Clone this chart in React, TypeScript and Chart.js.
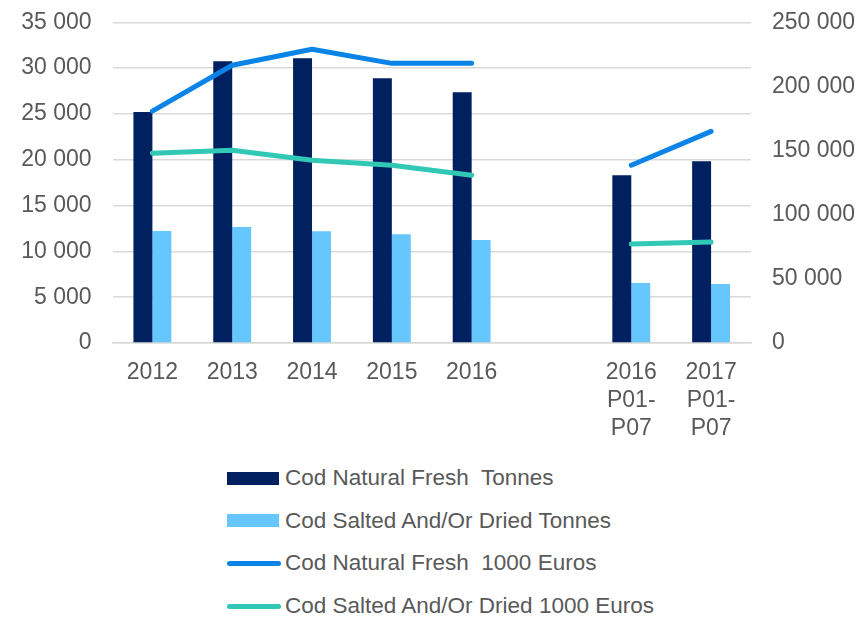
import React, { useEffect, useRef } from "react";
import { Chart, registerables } from "chart.js";

Chart.register(...registerables);

const categories: (string | string[])[] = [
  "2012",
  "2013",
  "2014",
  "2015",
  "2016",
  "",
  ["2016", "P01-", "P07"],
  ["2017", "P01-", "P07"],
];

const freshTonnes: (number | null)[] = [25200, 30750, 31070, 28900, 27370, null, 18320, 19840];
const saltedTonnes: (number | null)[] = [12210, 12650, 12200, 11880, 11230, null, 6540, 6430];
const freshEuros: (number | null)[] = [180700, 216500, 229000, 218000, 218000, null, 138600, 165000];
const saltedEuros: (number | null)[] = [148000, 150300, 142500, 138600, 130800, null, 77100, 78700];

const labelFresh = "Cod Natural Fresh  Tonnes";
const labelSalted = "Cod Salted And/Or Dried Tonnes";
const labelFreshEur = "Cod Natural Fresh  1000 Euros";
const labelSaltedEur = "Cod Salted And/Or Dried 1000 Euros";

const C_FRESH = "#002060";
const C_SALTED = "#66C7FF";
const C_FRESH_EUR = "#0A84E6";
const C_SALTED_EUR = "#31C8B6";

const FONT = "'Liberation Sans', Arial, sans-serif";
const TEXT = "#595959";

const fmt = (v: number) => {
  const s = Math.round(v).toString();
  return s.replace(/\B(?=(\d{3})+(?!\d))/g, " ");
};

export default function App() {
  const ref = useRef<HTMLCanvasElement | null>(null);

  useEffect(() => {
    if (!ref.current) return;
    const chart = new Chart(ref.current, {
      type: "bar",
      data: {
        labels: categories,
        datasets: [
          {
            type: "line",
            label: labelFreshEur,
            data: freshEuros,
            yAxisID: "y2",
            borderColor: C_FRESH_EUR,
            backgroundColor: C_FRESH_EUR,
            borderWidth: 5,
            borderCapStyle: "round",
            borderJoinStyle: "round",
            pointRadius: 0,
            spanGaps: false,
            order: 0,
          },
          {
            type: "line",
            label: labelSaltedEur,
            data: saltedEuros,
            yAxisID: "y2",
            borderColor: C_SALTED_EUR,
            backgroundColor: C_SALTED_EUR,
            borderWidth: 5,
            borderCapStyle: "round",
            borderJoinStyle: "round",
            pointRadius: 0,
            spanGaps: false,
            order: 0,
          },
          {
            type: "bar",
            label: labelFresh,
            data: freshTonnes,
            yAxisID: "y",
            backgroundColor: C_FRESH,
            barPercentage: 1,
            categoryPercentage: 0.475,
            order: 1,
          },
          {
            type: "bar",
            label: labelSalted,
            data: saltedTonnes,
            yAxisID: "y",
            backgroundColor: C_SALTED,
            barPercentage: 1,
            categoryPercentage: 0.475,
            order: 1,
          },
        ],
      },
      options: {
        animation: false,
        responsive: false,
        maintainAspectRatio: false,
        layout: { padding: { top: 22.3, left: 0, right: 0, bottom: 0 } },
        plugins: {
          legend: { display: false },
          tooltip: { enabled: false },
        },
        scales: {
          x: {
            grid: { display: false, drawTicks: false },
            border: { display: true, color: "#D9D9D9", width: 1.5 },
            ticks: {
              color: TEXT,
              font: { family: FONT, size: 23, lineHeight: 1.22 },
              padding: 16,
              maxRotation: 0,
              autoSkip: false,
            },
            afterFit: (s: any) => {
              s.height = 107;
            },
          },
          y: {
            position: "left",
            min: 0,
            max: 35000,
            grid: { color: "#D9D9D9", lineWidth: 1.5, drawTicks: false },
            border: { display: false },
            ticks: {
              stepSize: 5000,
              color: TEXT,
              font: { family: FONT, size: 23 },
              padding: 21,
              callback: (v: any) => fmt(Number(v)),
            },
            afterFit: (s: any) => {
              s.width = 112.5;
              s.paddingTop = 0;
              s.paddingBottom = 0;
            },
          },
          y2: {
            position: "right",
            min: 0,
            max: 250000,
            grid: { display: false, drawTicks: false },
            border: { display: false },
            ticks: {
              stepSize: 50000,
              color: TEXT,
              font: { family: FONT, size: 23 },
              padding: 21,
              callback: (v: any) => fmt(Number(v)),
            },
            afterFit: (s: any) => {
              s.width = 115;
              s.paddingTop = 0;
              s.paddingBottom = 0;
            },
          },
        },
      },
    });
    return () => chart.destroy();
  }, []);

  const legendItems = [
    { label: labelFresh, color: C_FRESH, kind: "box" },
    { label: labelSalted, color: C_SALTED, kind: "box" },
    { label: labelFreshEur, color: C_FRESH_EUR, kind: "line" },
    { label: labelSaltedEur, color: C_SALTED_EUR, kind: "line" },
  ];

  return (
    <div
      style={{
        position: "absolute",
        left: 0,
        top: 0,
        width: 866,
        height: 617,
        background: "#fff",
        overflow: "hidden",
      }}
    >
      <canvas ref={ref} width={866} height={450} style={{ display: "block" }} />
      {legendItems.map((it, i) => {
        const cy = 478 + i * 42.7;
        return (
          <div key={i}>
            <div
              style={{
                position: "absolute",
                left: 227,
                top: it.kind === "box" ? cy - 6.5 : cy - 2.5,
                width: it.kind === "box" ? 52 : 54,
                height: it.kind === "box" ? 13 : 5,
                background: it.color,
                borderRadius: it.kind === "box" ? 0 : 3,
              }}
            />
            <div
              style={{
                position: "absolute",
                left: 285,
                top: cy - 14,
                height: 28,
                lineHeight: "28px",
                fontFamily: FONT,
                fontSize: 22.5,
                color: TEXT,
                whiteSpace: "pre",
              }}
            >
              {it.label}
            </div>
          </div>
        );
      })}
    </div>
  );
}
